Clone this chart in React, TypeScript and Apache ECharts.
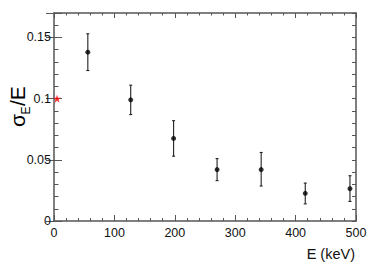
import React, { useEffect, useRef } from "react";
import * as echarts from "echarts";

const energies = [56, 127, 198, 270, 343, 416, 490];
const resolution = [0.138, 0.099, 0.0675, 0.042, 0.042, 0.0226, 0.0264];
const errHigh = [0.153, 0.111, 0.082, 0.051, 0.056, 0.031, 0.037];
const errLow = [0.123, 0.087, 0.053, 0.033, 0.0286, 0.014, 0.016];
const refPoint = [5, 0.1];
const xTitle = "E (keV)";

const STAR =
  "path://M0,-100L23.5,-32.4L95.1,-30.9L38,12.4L58.8,80.9L0,40L-58.8,80.9L-38,12.4L-95.1,-30.9L-23.5,-32.4Z";

const FONT = "Liberation Sans, Arial, Helvetica, sans-serif";
const AXIS_COLOR = "#555";

export default function App() {
  const ref = useRef<HTMLDivElement>(null);
  useEffect(() => {
    if (!ref.current) return;
    const chart = echarts.init(ref.current, null, { renderer: "svg" });
    const points = energies.map((e, i) => [e, resolution[i]]);
    const bars = energies.map((e, i) => [e, errLow[i], errHigh[i]]);
    const xBase = {
      type: "value" as const,
      min: 0,
      max: 500,
      interval: 100,
      splitLine: { show: false },
      axisLine: { show: true, onZero: false, lineStyle: { color: AXIS_COLOR, width: 1.5 } },
    };
    const yBase = {
      type: "value" as const,
      min: 0,
      max: 0.17,
      splitLine: { show: false },
    };
    chart.setOption({
      animation: false,
      grid: { left: 54, right: 18, top: 13, bottom: 57, show: false },
      xAxis: [
        {
          ...xBase,
          position: "bottom",
          axisTick: { show: true, inside: true, length: 6, lineStyle: { color: AXIS_COLOR } },
          minorTick: { show: true, splitNumber: 5, length: 3, lineStyle: { color: AXIS_COLOR } },
          axisLabel: { show: true, margin: 5, fontSize: 12.5, color: "#111", fontFamily: FONT },
        },
        {
          ...xBase,
          position: "top",
          axisTick: { show: true, inside: true, length: 5, lineStyle: { color: AXIS_COLOR } },
          minorTick: { show: true, splitNumber: 5, length: 2.5, lineStyle: { color: AXIS_COLOR } },
          axisLabel: { show: false },
        },
      ],
      yAxis: [
        {
          ...yBase,
          position: "left",
          interval: 0.01,
          axisLine: { show: true, onZero: false, lineStyle: { color: AXIS_COLOR, width: 1.5 } },
          axisTick: { show: true, inside: true, length: 4.5, lineStyle: { color: AXIS_COLOR } },
          axisLabel: {
            show: true,
            margin: 3,
            fontSize: 12.5,
            color: "#111",
            fontFamily: FONT,
            showMaxLabel: false,
            formatter: (v: number) => {
              const r = Math.round(v * 100);
              return r % 5 === 0 ? String(r / 100) : "";
            },
          },
        },
        {
          ...yBase,
          position: "left",
          interval: 0.05,
          axisLine: { show: false },
          axisTick: { show: true, inside: true, length: 8, lineStyle: { color: AXIS_COLOR } },
          axisLabel: { show: false },
        },
        {
          ...yBase,
          position: "right",
          interval: 0.01,
          axisLine: { show: true, onZero: false, lineStyle: { color: AXIS_COLOR, width: 1.5 } },
          axisTick: { show: true, inside: true, length: 4, lineStyle: { color: AXIS_COLOR } },
          axisLabel: { show: false },
        },
        {
          ...yBase,
          position: "right",
          interval: 0.05,
          axisLine: { show: false },
          axisTick: { show: true, inside: true, length: 8, lineStyle: { color: AXIS_COLOR } },
          axisLabel: { show: false },
        },
      ],
      series: [
        {
          type: "custom",
          xAxisIndex: 0,
          yAxisIndex: 0,
          data: bars,
          renderItem: (params: any, api: any) => {
            const x = api.value(0);
            const lo = api.coord([x, api.value(1)]);
            const hi = api.coord([x, api.value(2)]);
            const cap = 1.5;
            const style = { stroke: "#222", lineWidth: 1.1 };
            return {
              type: "group",
              children: [
                { type: "line", shape: { x1: lo[0], y1: lo[1], x2: hi[0], y2: hi[1] }, style },
                { type: "line", shape: { x1: lo[0] - cap, y1: lo[1], x2: lo[0] + cap, y2: lo[1] }, style },
                { type: "line", shape: { x1: hi[0] - cap, y1: hi[1], x2: hi[0] + cap, y2: hi[1] }, style },
              ],
            };
          },
          z: 2,
        },
        {
          type: "scatter",
          xAxisIndex: 0,
          yAxisIndex: 0,
          data: points,
          symbol: "circle",
          symbolSize: 5,
          itemStyle: { color: "#000" },
          z: 3,
        },
        {
          type: "scatter",
          xAxisIndex: 0,
          yAxisIndex: 0,
          data: [refPoint],
          symbol: STAR,
          symbolSize: 8,
          itemStyle: { color: "#ff0000" },
          z: 4,
        },
      ],
      graphic: [
        {
          type: "group",
          x: 28,
          y: 127,
          rotation: Math.PI / 2,
          children: [
            {
              type: "text",
              x: 0,
              y: 0,
              style: { text: "σ", fontSize: 21, fontFamily: FONT, fill: "#000", align: "left", verticalAlign: "bottom" },
            },
            {
              type: "text",
              x: 12.5,
              y: 4,
              style: { text: "E", fontSize: 12, fontFamily: FONT, fill: "#000", align: "left", verticalAlign: "bottom" },
            },
            {
              type: "text",
              x: 21,
              y: 0,
              style: { text: "/E", fontSize: 21, fontFamily: FONT, fill: "#000", align: "left", verticalAlign: "bottom" },
            },
          ],
        },
        {
          type: "text",
          x: 355,
          y: 254,
          style: { text: xTitle, fontSize: 14.5, fontFamily: FONT, fill: "#111", align: "right", verticalAlign: "middle" },
        },
      ],
    });
    return () => chart.dispose();
  }, []);
  return <div ref={ref} style={{ width: 374, height: 278, position: "absolute", left: 0, top: 0 }} />;
}
